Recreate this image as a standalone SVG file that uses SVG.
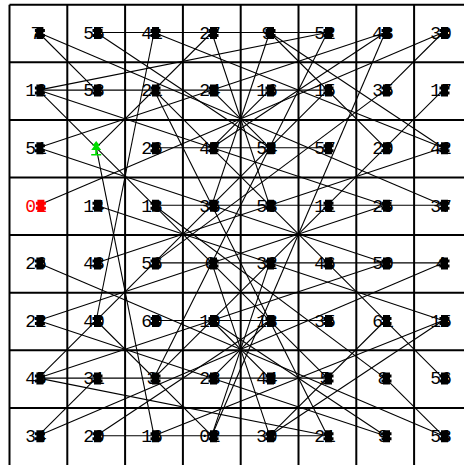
<svg xmlns="http://www.w3.org/2000/svg" width="464" height="465" viewBox="0 0 464 465">
<style>
.grid{stroke:#000;stroke-width:2;fill:none}
.conn line{stroke:#000;stroke-width:1.1}
text{font-family:"Liberation Mono",monospace;font-size:18px;fill:#000;text-anchor:middle}
.mk{fill:#000}
.red text{fill:#f00}
.red .mk{fill:#f00}
</style>
<defs>
<path id="bug" d="M-3,-5.5h7v2h1.5v3h-1.5v2h1.5v3h-1.5v2h-7v-2h-1.5v-3h1.5v-2h-1.5v-3h1.5z"/>
</defs>
<rect width="464" height="465" fill="#fff"/>
<g id="grid" class="grid">
<path d="M9.5,4.7V465M67.3,4.7V465M125.1,4.7V465M182.9,4.7V465M240.7,4.7V465M298.5,4.7V465M356.3,4.7V465M414.1,4.7V465"/>
<path d="M9.5,4.7H464M9.5,62.3H464M9.5,119.9H464M9.5,177.5H464M9.5,235.1H464M9.5,292.7H464M9.5,350.3H464M9.5,407.9H464"/>
</g>
<g id="connectors" class="conn">
<line x1="38.4" y1="32.5" x2="96.2" y2="90.1"/>
<line x1="38.4" y1="32.5" x2="443" y2="205.3"/>
<line x1="443" y1="32.5" x2="385.2" y2="90.1"/>
<line x1="443" y1="32.5" x2="38.4" y2="205.3"/>
<line x1="38.4" y1="435.7" x2="96.2" y2="378.1"/>
<line x1="38.4" y1="435.7" x2="443" y2="262.9"/>
<line x1="443" y1="435.7" x2="385.2" y2="378.1"/>
<line x1="443" y1="435.7" x2="38.4" y2="262.9"/>
<line x1="211.8" y1="32.5" x2="269.6" y2="205.3"/>
<line x1="269.6" y1="32.5" x2="211.8" y2="205.3"/>
<line x1="211.8" y1="435.7" x2="269.6" y2="262.9"/>
<line x1="269.6" y1="435.7" x2="211.8" y2="262.9"/>
<line x1="96.2" y1="32.5" x2="269.6" y2="147.7"/>
<line x1="385.2" y1="32.5" x2="211.8" y2="147.7"/>
<line x1="96.2" y1="435.7" x2="269.6" y2="320.5"/>
<line x1="385.2" y1="435.7" x2="211.8" y2="320.5"/>
<line x1="96.2" y1="32.5" x2="327.4" y2="32.5"/>
<line x1="96.2" y1="435.7" x2="327.4" y2="435.7"/>
<line x1="38.4" y1="90.1" x2="327.4" y2="90.1"/>
<line x1="38.4" y1="378.1" x2="327.4" y2="378.1"/>
<line x1="154" y1="147.7" x2="327.4" y2="147.7"/>
<line x1="154" y1="320.5" x2="327.4" y2="320.5"/>
<line x1="154" y1="205.3" x2="443" y2="205.3"/>
<line x1="154" y1="262.9" x2="443" y2="262.9"/>
<line x1="38.4" y1="147.7" x2="385.2" y2="32.5"/>
<line x1="38.4" y1="147.7" x2="385.2" y2="262.9"/>
<line x1="38.4" y1="320.5" x2="385.2" y2="205.3"/>
<line x1="38.4" y1="320.5" x2="385.2" y2="435.7"/>
<line x1="443" y1="147.7" x2="96.2" y2="262.9"/>
<line x1="443" y1="147.7" x2="269.6" y2="32.5"/>
<line x1="443" y1="320.5" x2="96.2" y2="205.3"/>
<line x1="443" y1="320.5" x2="269.6" y2="435.7"/>
<line x1="38.4" y1="90.1" x2="385.2" y2="205.3"/>
<line x1="38.4" y1="378.1" x2="385.2" y2="262.9"/>
<line x1="385.2" y1="90.1" x2="154" y2="262.9"/>
<line x1="385.2" y1="378.1" x2="154" y2="205.3"/>
<line x1="443" y1="90.1" x2="154" y2="378.1"/>
<line x1="443" y1="378.1" x2="154" y2="90.1"/>
<line x1="154" y1="32.5" x2="96.2" y2="320.5"/>
<line x1="385.2" y1="32.5" x2="211.8" y2="435.7"/>
<line x1="154" y1="435.7" x2="96.2" y2="147.7"/>
<line x1="327.4" y1="435.7" x2="154" y2="90.1"/>
<line x1="211.8" y1="90.1" x2="269.6" y2="147.7"/>
<line x1="269.6" y1="90.1" x2="211.8" y2="147.7"/>
<line x1="211.8" y1="378.1" x2="269.6" y2="320.5"/>
<line x1="269.6" y1="378.1" x2="211.8" y2="320.5"/>
<line x1="38.4" y1="90.1" x2="327.4" y2="378.1"/>
<line x1="38.4" y1="378.1" x2="327.4" y2="90.1"/>
<line x1="327.4" y1="32.5" x2="38.4" y2="90.1"/>
<line x1="327.4" y1="435.7" x2="38.4" y2="378.1"/>
<line x1="154" y1="32.5" x2="443" y2="147.7"/>
<line x1="154" y1="435.7" x2="443" y2="320.5"/>
<line x1="327.4" y1="32.5" x2="154" y2="378.1"/>
<line x1="211.8" y1="32.5" x2="96.2" y2="147.7"/>
<line x1="211.8" y1="435.7" x2="96.2" y2="320.5"/>
<line x1="269.6" y1="32.5" x2="385.2" y2="147.7"/>
<line x1="269.6" y1="435.7" x2="385.2" y2="320.5"/>
</g>
<g id="n00"><text x="36" y="38.8">7</text><use href="#bug" class="mk" x="39.4" y="32.5"/></g>
<g id="n10"><text x="94" y="38.8">55</text><use href="#bug" class="mk" x="97" y="32.5"/></g>
<g id="n20"><text x="152" y="38.8">41</text><use href="#bug" class="mk" x="155" y="32.5"/></g>
<g id="n30"><text x="210" y="38.8">27</text><use href="#bug" class="mk" x="213" y="32.5"/></g>
<g id="n40"><text x="267" y="38.8">9</text><use href="#bug" class="mk" x="270" y="32.5"/></g>
<g id="n50"><text x="325" y="38.8">52</text><use href="#bug" class="mk" x="328" y="32.5"/></g>
<g id="n60"><text x="383" y="38.8">43</text><use href="#bug" class="mk" x="386" y="32.5"/></g>
<g id="n70"><text x="441" y="38.8">30</text><use href="#bug" class="mk" x="444" y="32.5"/></g>
<g id="n01"><text x="36" y="96.4">12</text><use href="#bug" class="mk" x="39.4" y="90.1"/></g>
<g id="n11"><text x="94" y="96.4">58</text><use href="#bug" class="mk" x="97" y="90.1"/></g>
<g id="n21"><text x="152" y="96.4">21</text><use href="#bug" class="mk" x="155" y="90.1"/></g>
<g id="n31"><text x="210" y="96.4">24</text><use href="#bug" class="mk" x="213" y="90.1"/></g>
<g id="n41"><text x="267" y="96.4">16</text><use href="#bug" class="mk" x="270" y="90.1"/></g>
<g id="n51"><text x="325" y="96.4">15</text><use href="#bug" class="mk" x="328" y="90.1"/></g>
<g id="n61"><text x="383" y="96.4">35</text><use href="#bug" class="mk" x="386" y="90.1"/></g>
<g id="n71"><text x="441" y="96.4">17</text><use href="#bug" class="mk" x="444" y="90.1"/></g>
<g id="n02"><text x="36" y="154">51</text><use href="#bug" class="mk" x="39.4" y="147.7"/></g>
<g id="n12"><path d="M96.2,141l4,5h-2l3,4h-10l3,-4h-2zM95.2,150h2v4h-2zM91.2,154h10v1.5h-10z" fill="#0d0"/></g>
<g id="n22"><text x="152" y="154">26</text><use href="#bug" class="mk" x="155" y="147.7"/></g>
<g id="n32"><text x="210" y="154">47</text><use href="#bug" class="mk" x="213" y="147.7"/></g>
<g id="n42"><text x="267" y="154">54</text><use href="#bug" class="mk" x="270" y="147.7"/></g>
<g id="n52"><text x="325" y="154">57</text><use href="#bug" class="mk" x="328" y="147.7"/></g>
<g id="n62"><text x="383" y="154">29</text><use href="#bug" class="mk" x="386" y="147.7"/></g>
<g id="n72"><text x="441" y="154">42</text><use href="#bug" class="mk" x="444" y="147.7"/></g>
<g id="n03" class="red"><text x="36" y="211.6">01</text><use href="#bug" class="mk" x="40.4" y="205.3"/></g>
<g id="n13"><text x="94" y="211.6">14</text><use href="#bug" class="mk" x="97" y="205.3"/></g>
<g id="n23"><text x="152" y="211.6">18</text><use href="#bug" class="mk" x="155" y="205.3"/></g>
<g id="n33"><text x="210" y="211.6">36</text><use href="#bug" class="mk" x="213" y="205.3"/></g>
<g id="n43"><text x="267" y="211.6">53</text><use href="#bug" class="mk" x="270" y="205.3"/></g>
<g id="n53"><text x="325" y="211.6">11</text><use href="#bug" class="mk" x="328" y="205.3"/></g>
<g id="n63"><text x="383" y="211.6">25</text><use href="#bug" class="mk" x="386" y="205.3"/></g>
<g id="n73"><text x="441" y="211.6">37</text><use href="#bug" class="mk" x="444" y="205.3"/></g>
<g id="n04"><text x="36" y="269.2">26</text><use href="#bug" class="mk" x="39.4" y="262.9"/></g>
<g id="n14"><text x="94" y="269.2">48</text><use href="#bug" class="mk" x="97" y="262.9"/></g>
<g id="n24"><text x="152" y="269.2">56</text><use href="#bug" class="mk" x="155" y="262.9"/></g>
<g id="n34"><text x="210" y="269.2">6</text><use href="#bug" class="mk" x="213" y="262.9"/></g>
<g id="n44"><text x="267" y="269.2">32</text><use href="#bug" class="mk" x="270" y="262.9"/></g>
<g id="n54"><text x="325" y="269.2">46</text><use href="#bug" class="mk" x="328" y="262.9"/></g>
<g id="n64"><text x="383" y="269.2">50</text><use href="#bug" class="mk" x="386" y="262.9"/></g>
<g id="n74"><text x="441" y="269.2">4</text><use href="#bug" class="mk" x="444" y="262.9"/></g>
<g id="n05"><text x="36" y="326.8">22</text><use href="#bug" class="mk" x="39.4" y="320.5"/></g>
<g id="n15"><text x="94" y="326.8">40</text><use href="#bug" class="mk" x="97" y="320.5"/></g>
<g id="n25"><text x="152" y="326.8">60</text><use href="#bug" class="mk" x="155" y="320.5"/></g>
<g id="n35"><text x="210" y="326.8">10</text><use href="#bug" class="mk" x="213" y="320.5"/></g>
<g id="n45"><text x="267" y="326.8">13</text><use href="#bug" class="mk" x="270" y="320.5"/></g>
<g id="n55"><text x="325" y="326.8">35</text><use href="#bug" class="mk" x="328" y="320.5"/></g>
<g id="n65"><text x="383" y="326.8">61</text><use href="#bug" class="mk" x="386" y="320.5"/></g>
<g id="n75"><text x="441" y="326.8">15</text><use href="#bug" class="mk" x="444" y="320.5"/></g>
<g id="n06"><text x="36" y="384.4">45</text><use href="#bug" class="mk" x="39.4" y="378.1"/></g>
<g id="n16"><text x="94" y="384.4">31</text><use href="#bug" class="mk" x="97" y="378.1"/></g>
<g id="n26"><text x="152" y="384.4">3</text><use href="#bug" class="mk" x="155" y="378.1"/></g>
<g id="n36"><text x="210" y="384.4">28</text><use href="#bug" class="mk" x="213" y="378.1"/></g>
<g id="n46"><text x="267" y="384.4">44</text><use href="#bug" class="mk" x="270" y="378.1"/></g>
<g id="n56"><text x="325" y="384.4">5</text><use href="#bug" class="mk" x="328" y="378.1"/></g>
<g id="n66"><text x="383" y="384.4">8</text><use href="#bug" class="mk" x="386" y="378.1"/></g>
<g id="n76"><text x="441" y="384.4">56</text><use href="#bug" class="mk" x="444" y="378.1"/></g>
<g id="n07"><text x="36" y="442">34</text><use href="#bug" class="mk" x="39.4" y="435.7"/></g>
<g id="n17"><text x="94" y="442">20</text><use href="#bug" class="mk" x="97" y="435.7"/></g>
<g id="n27"><text x="152" y="442">16</text><use href="#bug" class="mk" x="155" y="435.7"/></g>
<g id="n37"><text x="210" y="442">02</text><use href="#bug" class="mk" x="213" y="435.7"/></g>
<g id="n47"><text x="267" y="442">39</text><use href="#bug" class="mk" x="270" y="435.7"/></g>
<g id="n57"><text x="325" y="442">21</text><use href="#bug" class="mk" x="328" y="435.7"/></g>
<g id="n67"><text x="383" y="442">9</text><use href="#bug" class="mk" x="386" y="435.7"/></g>
<g id="n77"><text x="441" y="442">58</text><use href="#bug" class="mk" x="444" y="435.7"/></g>
</svg>
